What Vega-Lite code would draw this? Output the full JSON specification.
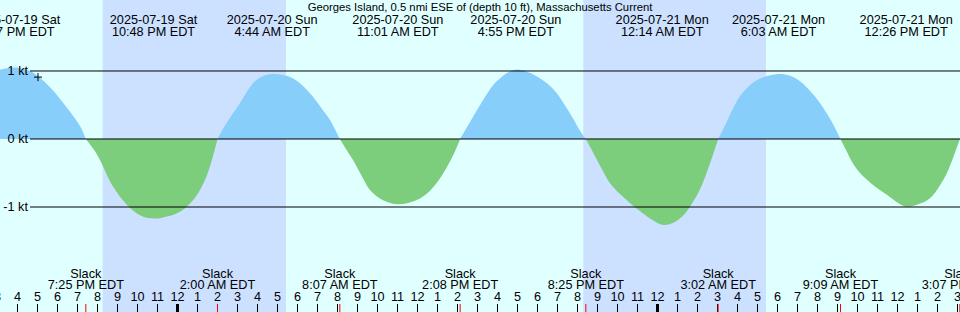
{
  "$schema": "https://vega.github.io/schema/vega-lite/v6.json",
  "width": 960,
  "height": 312,
  "autosize": {"type": "none"},
  "padding": 0,
  "background": "#e0ffff",
  "config": {
    "view": {"stroke": null},
    "axis": {"disable": true},
    "text": {"font": "Liberation Sans", "fontSize": 12.7, "color": "#000000"}
  },
  "datasets": {
    "night": [{"t": -3.74, "t2": 5.425}, {"t": 20.29, "t2": 29.425}],
    "curve": [
      {"s": 0, "d": "f", "t": -8.875, "v": 1.02},
      {"s": 0, "d": "f", "t": -8.45, "v": 1.045},
      {"s": 0, "d": "f", "t": -8.05, "v": 1.05},
      {"s": 0, "d": "f", "t": -7.375, "v": 1.0},
      {"s": 0, "d": "f", "t": -6.875, "v": 0.9},
      {"s": 0, "d": "f", "t": -6.375, "v": 0.76},
      {"s": 0, "d": "f", "t": -5.875, "v": 0.59},
      {"s": 0, "d": "f", "t": -5.375, "v": 0.4},
      {"s": 0, "d": "f", "t": -4.875, "v": 0.19},
      {"s": 0, "d": "f", "t": -4.583, "v": 0},
      {"s": 1, "d": "e", "t": -4.583, "v": 0},
      {"s": 1, "d": "e", "t": -4.125, "v": -0.18},
      {"s": 1, "d": "e", "t": -3.875, "v": -0.31},
      {"s": 1, "d": "e", "t": -3.225, "v": -0.7},
      {"s": 1, "d": "e", "t": -2.525, "v": -0.97},
      {"s": 1, "d": "e", "t": -1.875, "v": -1.12},
      {"s": 1, "d": "e", "t": -1.2, "v": -1.17},
      {"s": 1, "d": "e", "t": -0.525, "v": -1.14},
      {"s": 1, "d": "e", "t": 0.125, "v": -1.07},
      {"s": 1, "d": "e", "t": 0.775, "v": -0.9},
      {"s": 1, "d": "e", "t": 1.125, "v": -0.75},
      {"s": 1, "d": "e", "t": 1.475, "v": -0.53},
      {"s": 1, "d": "e", "t": 1.775, "v": -0.25},
      {"s": 1, "d": "e", "t": 2.0, "v": 0},
      {"s": 2, "d": "f", "t": 2.0, "v": 0},
      {"s": 2, "d": "f", "t": 2.375, "v": 0.2},
      {"s": 2, "d": "f", "t": 3.125, "v": 0.53},
      {"s": 2, "d": "f", "t": 3.775, "v": 0.82},
      {"s": 2, "d": "f", "t": 4.225, "v": 0.92},
      {"s": 2, "d": "f", "t": 4.733, "v": 0.956},
      {"s": 2, "d": "f", "t": 5.275, "v": 0.94},
      {"s": 2, "d": "f", "t": 5.775, "v": 0.89},
      {"s": 2, "d": "f", "t": 6.275, "v": 0.78},
      {"s": 2, "d": "f", "t": 6.775, "v": 0.62},
      {"s": 2, "d": "f", "t": 7.225, "v": 0.44},
      {"s": 2, "d": "f", "t": 7.625, "v": 0.28},
      {"s": 2, "d": "f", "t": 8.117, "v": 0},
      {"s": 3, "d": "e", "t": 8.117, "v": 0},
      {"s": 3, "d": "e", "t": 8.475, "v": -0.17},
      {"s": 3, "d": "e", "t": 8.775, "v": -0.31},
      {"s": 3, "d": "e", "t": 9.225, "v": -0.55},
      {"s": 3, "d": "e", "t": 9.625, "v": -0.75},
      {"s": 3, "d": "e", "t": 10.275, "v": -0.9},
      {"s": 3, "d": "e", "t": 11.017, "v": -0.96},
      {"s": 3, "d": "e", "t": 11.775, "v": -0.92},
      {"s": 3, "d": "e", "t": 12.475, "v": -0.8},
      {"s": 3, "d": "e", "t": 12.975, "v": -0.64},
      {"s": 3, "d": "e", "t": 13.475, "v": -0.41},
      {"s": 3, "d": "e", "t": 13.875, "v": -0.18},
      {"s": 3, "d": "e", "t": 14.133, "v": 0},
      {"s": 4, "d": "f", "t": 14.133, "v": 0},
      {"s": 4, "d": "f", "t": 14.625, "v": 0.25},
      {"s": 4, "d": "f", "t": 15.275, "v": 0.57},
      {"s": 4, "d": "f", "t": 15.775, "v": 0.79},
      {"s": 4, "d": "f", "t": 16.125, "v": 0.89},
      {"s": 4, "d": "f", "t": 16.475, "v": 0.97},
      {"s": 4, "d": "f", "t": 16.917, "v": 1.02},
      {"s": 4, "d": "f", "t": 17.475, "v": 0.99},
      {"s": 4, "d": "f", "t": 17.975, "v": 0.92},
      {"s": 4, "d": "f", "t": 18.475, "v": 0.82},
      {"s": 4, "d": "f", "t": 18.975, "v": 0.67},
      {"s": 4, "d": "f", "t": 19.425, "v": 0.47},
      {"s": 4, "d": "f", "t": 19.775, "v": 0.3},
      {"s": 4, "d": "f", "t": 20.125, "v": 0.12},
      {"s": 4, "d": "f", "t": 20.417, "v": 0},
      {"s": 5, "d": "e", "t": 20.417, "v": 0},
      {"s": 5, "d": "e", "t": 20.675, "v": -0.14},
      {"s": 5, "d": "e", "t": 20.975, "v": -0.31},
      {"s": 5, "d": "e", "t": 21.325, "v": -0.5},
      {"s": 5, "d": "e", "t": 21.625, "v": -0.65},
      {"s": 5, "d": "e", "t": 22.125, "v": -0.81},
      {"s": 5, "d": "e", "t": 22.625, "v": -0.94},
      {"s": 5, "d": "e", "t": 23.125, "v": -1.06},
      {"s": 5, "d": "e", "t": 23.625, "v": -1.17},
      {"s": 5, "d": "e", "t": 24.233, "v": -1.26},
      {"s": 5, "d": "e", "t": 24.725, "v": -1.24},
      {"s": 5, "d": "e", "t": 25.275, "v": -1.13},
      {"s": 5, "d": "e", "t": 25.725, "v": -0.95},
      {"s": 5, "d": "e", "t": 26.125, "v": -0.74},
      {"s": 5, "d": "e", "t": 26.625, "v": -0.36},
      {"s": 5, "d": "e", "t": 27.033, "v": 0},
      {"s": 6, "d": "f", "t": 27.033, "v": 0},
      {"s": 6, "d": "f", "t": 27.375, "v": 0.2},
      {"s": 6, "d": "f", "t": 27.775, "v": 0.45},
      {"s": 6, "d": "f", "t": 28.175, "v": 0.65},
      {"s": 6, "d": "f", "t": 28.625, "v": 0.79},
      {"s": 6, "d": "f", "t": 29.125, "v": 0.89},
      {"s": 6, "d": "f", "t": 30.05, "v": 0.955},
      {"s": 6, "d": "f", "t": 30.625, "v": 0.93},
      {"s": 6, "d": "f", "t": 31.125, "v": 0.85},
      {"s": 6, "d": "f", "t": 31.625, "v": 0.71},
      {"s": 6, "d": "f", "t": 32.125, "v": 0.53},
      {"s": 6, "d": "f", "t": 32.475, "v": 0.37},
      {"s": 6, "d": "f", "t": 32.775, "v": 0.22},
      {"s": 6, "d": "f", "t": 33.15, "v": 0},
      {"s": 7, "d": "e", "t": 33.15, "v": 0},
      {"s": 7, "d": "e", "t": 33.425, "v": -0.16},
      {"s": 7, "d": "e", "t": 33.775, "v": -0.36},
      {"s": 7, "d": "e", "t": 34.125, "v": -0.5},
      {"s": 7, "d": "e", "t": 34.475, "v": -0.6},
      {"s": 7, "d": "e", "t": 34.975, "v": -0.72},
      {"s": 7, "d": "e", "t": 35.475, "v": -0.82},
      {"s": 7, "d": "e", "t": 35.975, "v": -0.93},
      {"s": 7, "d": "e", "t": 36.433, "v": -0.995},
      {"s": 7, "d": "e", "t": 37.025, "v": -0.96},
      {"s": 7, "d": "e", "t": 37.625, "v": -0.87},
      {"s": 7, "d": "e", "t": 38.125, "v": -0.68},
      {"s": 7, "d": "e", "t": 38.475, "v": -0.5},
      {"s": 7, "d": "e", "t": 38.875, "v": -0.2},
      {"s": 7, "d": "e", "t": 39.117, "v": 0}
    ],
    "grid": [{"v": 1, "l": "1 kt"}, {"v": 0, "l": "0 kt"}, {"v": -1, "l": "-1 kt"}],
    "events": [
      {"t": -8.05, "d": "2025-07-19 Sat", "tm": "3:57 PM EDT"},
      {"t": -1.2, "d": "2025-07-19 Sat", "tm": "10:48 PM EDT"},
      {"t": 4.733, "d": "2025-07-20 Sun", "tm": "4:44 AM EDT"},
      {"t": 11.017, "d": "2025-07-20 Sun", "tm": "11:01 AM EDT"},
      {"t": 16.917, "d": "2025-07-20 Sun", "tm": "4:55 PM EDT"},
      {"t": 24.233, "d": "2025-07-21 Mon", "tm": "12:14 AM EDT"},
      {"t": 30.05, "d": "2025-07-21 Mon", "tm": "6:03 AM EDT"},
      {"t": 36.433, "d": "2025-07-21 Mon", "tm": "12:26 PM EDT"}
    ],
    "slack": [
      {"t": -4.583, "k": "Slack", "tm": "7:25 PM EDT"},
      {"t": 2.0, "k": "Slack", "tm": "2:00 AM EDT"},
      {"t": 8.117, "k": "Slack", "tm": "8:07 AM EDT"},
      {"t": 14.133, "k": "Slack", "tm": "2:08 PM EDT"},
      {"t": 20.417, "k": "Slack", "tm": "8:25 PM EDT"},
      {"t": 27.033, "k": "Slack", "tm": "3:02 AM EDT"},
      {"t": 33.15, "k": "Slack", "tm": "9:09 AM EDT"},
      {"t": 39.117, "k": "Slack", "tm": "3:07 PM EDT"}
    ],
    "hours": [
      {"t": -9, "lab": "3"}, {"t": -8, "lab": "4"}, {"t": -7, "lab": "5"}, {"t": -6, "lab": "6"},
      {"t": -5, "lab": "7"}, {"t": -4, "lab": "8"}, {"t": -3, "lab": "9"}, {"t": -2, "lab": "10"},
      {"t": -1, "lab": "11"}, {"t": 0, "lab": "12"}, {"t": 1, "lab": "1"}, {"t": 2, "lab": "2"},
      {"t": 3, "lab": "3"}, {"t": 4, "lab": "4"}, {"t": 5, "lab": "5"}, {"t": 6, "lab": "6"},
      {"t": 7, "lab": "7"}, {"t": 8, "lab": "8"}, {"t": 9, "lab": "9"}, {"t": 10, "lab": "10"},
      {"t": 11, "lab": "11"}, {"t": 12, "lab": "12"}, {"t": 13, "lab": "1"}, {"t": 14, "lab": "2"},
      {"t": 15, "lab": "3"}, {"t": 16, "lab": "4"}, {"t": 17, "lab": "5"}, {"t": 18, "lab": "6"},
      {"t": 19, "lab": "7"}, {"t": 20, "lab": "8"}, {"t": 21, "lab": "9"}, {"t": 22, "lab": "10"},
      {"t": 23, "lab": "11"}, {"t": 24, "lab": "12"}, {"t": 25, "lab": "1"}, {"t": 26, "lab": "2"},
      {"t": 27, "lab": "3"}, {"t": 28, "lab": "4"}, {"t": 29, "lab": "5"}, {"t": 30, "lab": "6"},
      {"t": 31, "lab": "7"}, {"t": 32, "lab": "8"}, {"t": 33, "lab": "9"}, {"t": 34, "lab": "10"},
      {"t": 35, "lab": "11"}, {"t": 36, "lab": "12"}, {"t": 37, "lab": "1"}, {"t": 38, "lab": "2"},
      {"t": 39, "lab": "3"}
    ],
    "mark": [{"t": -6.975, "v": 0.91}],
    "title": [{"t": 15.125, "title": "Georges Island, 0.5 nmi ESE of (depth 10 ft), Massachusetts Current"}]
  },
  "layer": [
    {
      "data": {"name": "night"},
      "mark": {"type": "rect", "color": "#cce0ff"},
      "encoding": {
        "x": {"field": "t", "type": "quantitative", "scale": {"domain": [-8.875, 39.125], "nice": false, "zero": false}, "axis": null},
        "x2": {"field": "t2"},
        "y": {"datum": 2.044, "type": "quantitative", "scale": {"domain": [-2.544, 2.044], "nice": false, "zero": false}, "axis": null},
        "y2": {"datum": -2.544}
      }
    },
    {
      "data": {"name": "curve"},
      "mark": {"type": "area", "interpolate": "catmull-rom", "opacity": 1},
      "encoding": {
        "x": {"field": "t", "type": "quantitative", "scale": {"domain": [-8.875, 39.125], "nice": false, "zero": false}, "axis": null},
        "y": {"field": "v", "type": "quantitative", "stack": null, "scale": {"domain": [-2.544, 2.044], "nice": false, "zero": false}, "axis": null},
        "y2": {"datum": 0},
        "detail": {"field": "s"},
        "color": {"field": "d", "type": "nominal", "scale": {"domain": ["f", "e"], "range": ["#87cefa", "#7ccd7c"]}, "legend": null}
      }
    },
    {
      "data": {"name": "grid"},
      "mark": {"type": "rule", "color": "#000000", "strokeWidth": 1},
      "encoding": {
        "x": {"datum": -7.375, "type": "quantitative"},
        "x2": {"datum": 39.125},
        "y": {"field": "v", "type": "quantitative"}
      }
    },
    {
      "data": {"name": "grid"},
      "mark": {"type": "text", "align": "right", "baseline": "middle"},
      "encoding": {
        "x": {"datum": -7.475, "type": "quantitative"},
        "y": {"field": "v", "type": "quantitative"},
        "text": {"field": "l"}
      }
    },
    {
      "data": {"name": "mark"},
      "mark": {"type": "point", "shape": "M-1,0L1,0M0,-1L0,1", "size": 64, "filled": false, "color": "#000000", "strokeWidth": 1, "opacity": 1},
      "encoding": {
        "x": {"field": "t", "type": "quantitative"},
        "y": {"field": "v", "type": "quantitative"}
      }
    },
    {
      "data": {"name": "title"},
      "mark": {"type": "text", "align": "center", "baseline": "alphabetic", "fontSize": 11.3},
      "encoding": {
        "x": {"field": "t", "type": "quantitative"},
        "y": {"datum": 1.882, "type": "quantitative"},
        "text": {"field": "title"}
      }
    },
    {
      "data": {"name": "events"},
      "mark": {"type": "text", "align": "center", "baseline": "alphabetic"},
      "encoding": {
        "x": {"field": "t", "type": "quantitative"},
        "y": {"datum": 1.691, "type": "quantitative"},
        "text": {"field": "d"}
      }
    },
    {
      "data": {"name": "events"},
      "mark": {"type": "text", "align": "center", "baseline": "alphabetic"},
      "encoding": {
        "x": {"field": "t", "type": "quantitative"},
        "y": {"datum": 1.515, "type": "quantitative"},
        "text": {"field": "tm"}
      }
    },
    {
      "data": {"name": "slack"},
      "mark": {"type": "text", "align": "center", "baseline": "alphabetic"},
      "encoding": {
        "x": {"field": "t", "type": "quantitative"},
        "y": {"datum": -2.049, "type": "quantitative"},
        "text": {"field": "k"}
      }
    },
    {
      "data": {"name": "slack"},
      "mark": {"type": "text", "align": "center", "baseline": "alphabetic"},
      "encoding": {
        "x": {"field": "t", "type": "quantitative"},
        "y": {"datum": -2.21, "type": "quantitative"},
        "text": {"field": "tm"}
      }
    },
    {
      "data": {"name": "hours"},
      "mark": {"type": "text", "align": "center", "baseline": "alphabetic"},
      "encoding": {
        "x": {"field": "t", "type": "quantitative"},
        "y": {"datum": -2.378, "type": "quantitative"},
        "text": {"field": "lab"}
      }
    },
    {
      "data": {"name": "hours"},
      "mark": {"type": "rule", "color": "#000000"},
      "encoding": {
        "x": {"field": "t", "type": "quantitative"},
        "y": {"datum": -2.426, "type": "quantitative"},
        "y2": {"datum": -2.544},
        "strokeWidth": {"condition": {"test": "datum.t % 24 === 0", "value": 3}, "value": 1}
      }
    },
    {
      "data": {"name": "slack"},
      "mark": {"type": "rule", "color": "#ff0000", "strokeWidth": 1},
      "encoding": {
        "x": {"field": "t", "type": "quantitative"},
        "y": {"datum": -2.426, "type": "quantitative"},
        "y2": {"datum": -2.544}
      }
    }
  ]
}
